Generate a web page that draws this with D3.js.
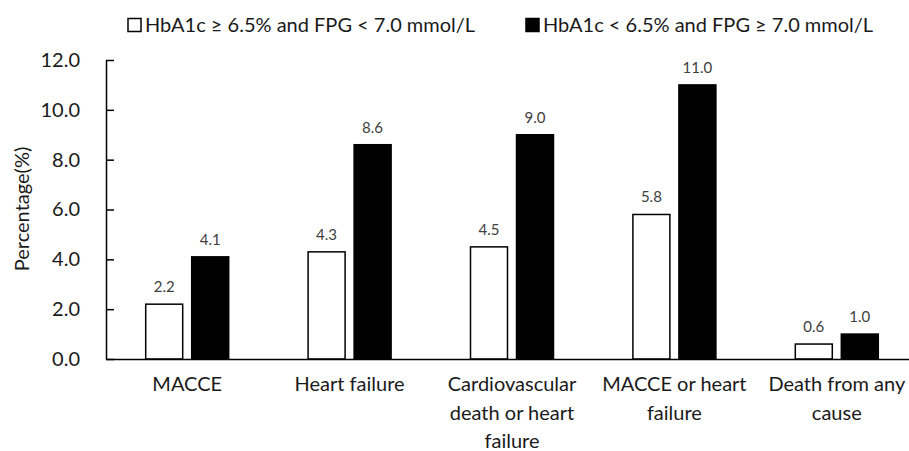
<!DOCTYPE html>
<html>
<head>
<meta charset="utf-8">
<script src="https://cdn.jsdelivr.net/npm/d3@7"></script>
<style>
  html, body { margin: 0; padding: 0; background: #fff; }
  svg { display: block; }
  text { font-family: Lato, "Open Sans", sans-serif; }
</style>
</head>
<body>
<svg id="chart" width="909" height="451"></svg>
<script>
const categories = ["MACCE", "Heart failure", "Cardiovascular death or heart failure", "MACCE or heart failure", "Death from any cause"];
const categoryLines = [["MACCE"], ["Heart failure"], ["Cardiovascular", "death or heart", "failure"], ["MACCE or heart", "failure"], ["Death from any", "cause"]];
const seriesNames = ["HbA1c \u2265 6.5% and FPG < 7.0 mmol/L", "HbA1c < 6.5% and FPG \u2265 7.0 mmol/L"];
const seriesA = [2.2, 4.3, 4.5, 5.8, 0.6];
const seriesB = [4.1, 8.6, 9.0, 11.0, 1.0];
const yTicks = [0, 2, 4, 6, 8, 10, 12];

const seriesKeys = ["a", "b"];
const rows = categories.map((c, i) => ({ cat: c, a: seriesA[i], b: seriesB[i] }));
const fills = { a: "#ffffff", b: "#000000" };

const svg = d3.select("#chart");
const mLeft = 106, mRight = 918, mTop = 60, mBottom = 359;

const x0 = d3.scaleBand().domain(categories).range([mLeft, mRight]).paddingInner(0).paddingOuter(0);
const x1 = d3.scaleBand().domain(seriesKeys).range([0, x0.bandwidth()]).paddingInner(0.196).paddingOuter(0.863);
const y = d3.scaleLinear().domain([0, 12]).range([mBottom, mTop]);

// bars
const groups = svg.append("g").selectAll("g").data(rows).join("g")
  .attr("transform", d => `translate(${x0(d.cat)},0)`);
groups.selectAll("rect").data(d => seriesKeys.map(k => ({ k, v: d[k] }))).join("rect")
  .attr("x", d => x1(d.k))
  .attr("y", d => y(d.v))
  .attr("width", x1.bandwidth())
  .attr("height", d => y(0) - y(d.v))
  .attr("fill", d => fills[d.k])
  .attr("stroke", "#000")
  .attr("stroke-width", 1.5);

// value labels
groups.selectAll("text.val").data(d => seriesKeys.map(k => ({ k, v: d[k] }))).join("text")
  .attr("class", "val")
  .attr("x", d => x1(d.k) + x1.bandwidth() / 2)
  .attr("y", d => y(d.v) - 12)
  .attr("text-anchor", "middle")
  .attr("font-size", 15)
  .attr("fill", "#404040")
  .text(d => d3.format(".1f")(d.v));

// y axis
const yAxis = d3.axisLeft(y).tickValues(yTicks).tickFormat(d3.format(".1f"))
  .tickSizeInner(-8).tickSizeOuter(0).tickPadding(26);
const gy = svg.append("g").attr("transform", `translate(${mLeft},0)`).call(yAxis);
gy.selectAll("path, line").attr("stroke", "#000").attr("stroke-width", 1.5);
gy.selectAll("text").attr("font-size", 20).attr("fill", "#1a1a1a").attr("font-family", "Lato, sans-serif");

// x axis
const xAxis = d3.axisBottom(x0).tickSize(0).tickSizeOuter(0).tickFormat("");
const gx = svg.append("g").attr("transform", `translate(0,${mBottom})`).call(xAxis);
gx.select("path.domain").attr("stroke", "#000").attr("stroke-width", 1.5);
const catLabels = svg.append("g").selectAll("text").data(categories).join("text")
  .attr("x", d => x0(d) + x0.bandwidth() / 2)
  .attr("y", 391)
  .attr("text-anchor", "middle")
  .attr("font-size", 20)
  .attr("fill", "#1a1a1a");
catLabels.each(function (d, i) {
  d3.select(this).selectAll("tspan").data(categoryLines[i]).join("tspan")
    .attr("x", x0(d) + x0.bandwidth() / 2)
    .attr("dy", (t, j) => j === 0 ? 0 : 28.5)
    .text(t => t);
});

// y title
svg.append("text")
  .attr("transform", "translate(29,209) rotate(-90)")
  .attr("text-anchor", "middle")
  .attr("font-size", 20)
  .attr("fill", "#1a1a1a")
  .text("Percentage(%)");

// legend
const legendPos = [128, 526];
const legend = svg.append("g").selectAll("g").data(seriesKeys).join("g")
  .attr("transform", (d, i) => `translate(${legendPos[i]},0)`);
legend.append("rect")
  .attr("x", 0).attr("y", 18.5).attr("width", 13).attr("height", 13)
  .attr("fill", d => fills[d]).attr("stroke", "#000").attr("stroke-width", 1.5);
legend.append("text")
  .attr("x", 17).attr("y", 32)
  .attr("font-size", 20)
  .attr("fill", "#1a1a1a")
  .text((d, i) => seriesNames[i]);
</script>
</body>
</html>
